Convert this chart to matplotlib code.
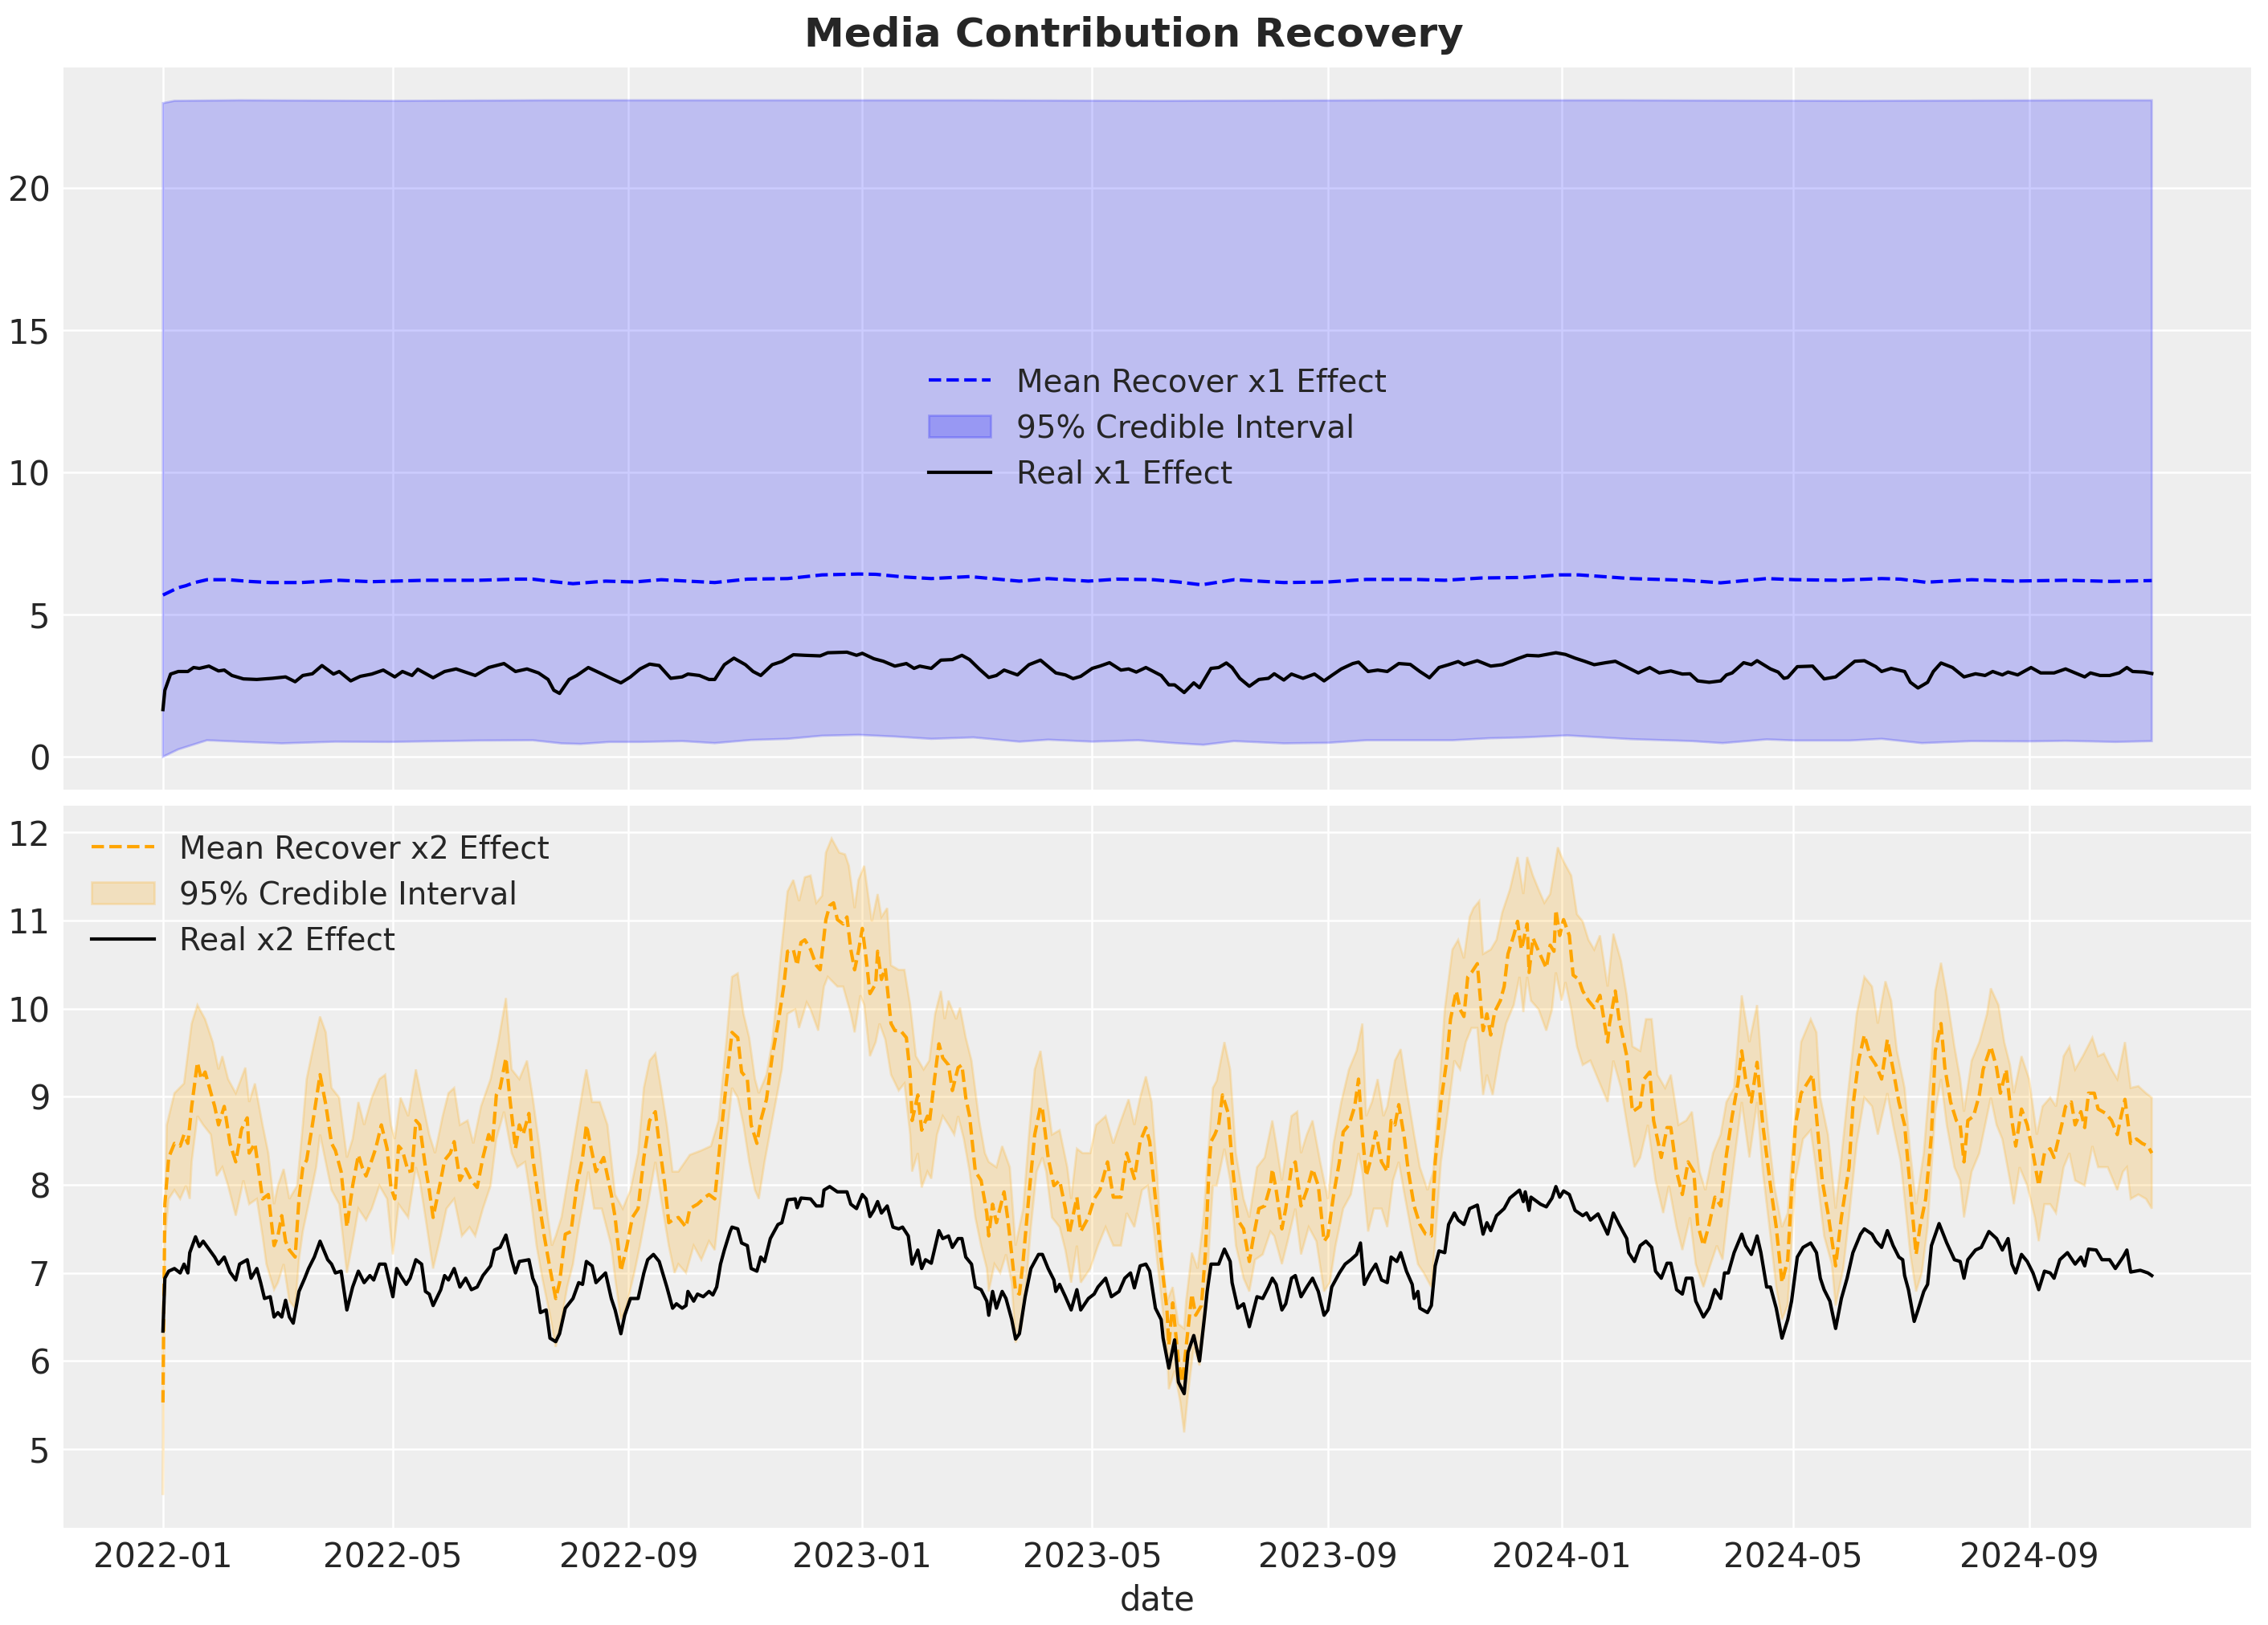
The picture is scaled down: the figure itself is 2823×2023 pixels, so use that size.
import numpy as np
import pandas as pd
import matplotlib
matplotlib.use("Agg")
import matplotlib.pyplot as plt
import matplotlib.dates as mdates
from matplotlib.ticker import MultipleLocator

# readings: (day since 2022-01-01, value)
START = "2022-01-01"

x1_mean_pts = [(0, 5.69), (8, 5.95), (12, 6.02), (16, 6.12), (23, 6.23), (34, 6.23), (45, 6.17), (56, 6.13),
               (72, 6.13), (92, 6.21), (109, 6.16), (137, 6.21), (165, 6.21), (184, 6.25), (193, 6.25),
               (204, 6.16), (214, 6.09), (231, 6.18), (246, 6.15), (260, 6.23), (288, 6.13), (305, 6.25),
               (326, 6.27), (344, 6.40), (363, 6.43), (372, 6.42), (386, 6.33), (401, 6.27), (421, 6.34),
               (447, 6.18), (462, 6.27), (483, 6.18), (498, 6.25), (517, 6.23), (530, 6.15), (542, 6.05),
               (559, 6.23), (585, 6.13), (608, 6.15), (628, 6.24), (654, 6.24), (669, 6.21), (688, 6.29),
               (710, 6.31), (729, 6.40), (739, 6.40), (766, 6.27), (795, 6.21), (813, 6.12), (837, 6.27),
               (852, 6.23), (875, 6.21), (897, 6.27), (907, 6.25), (920, 6.14), (944, 6.23), (965, 6.18),
               (993, 6.21), (1017, 6.17), (1038, 6.20)]

x1_lower_pts = [(0, 0.00), (8, 0.26), (23, 0.58), (43, 0.52), (62, 0.47), (90, 0.53), (118, 0.52), (165, 0.57),
                (193, 0.58), (208, 0.47), (218, 0.45), (233, 0.52), (249, 0.52), (271, 0.55), (288, 0.48),
                (307, 0.59), (326, 0.63), (344, 0.74), (363, 0.77), (382, 0.71), (401, 0.63), (423, 0.68),
                (447, 0.53), (462, 0.60), (485, 0.53), (509, 0.58), (528, 0.48), (543, 0.42), (559, 0.55),
                (585, 0.47), (608, 0.49), (628, 0.58), (654, 0.58), (673, 0.58), (692, 0.65), (710, 0.68),
                (733, 0.75), (766, 0.62), (798, 0.55), (814, 0.48), (837, 0.61), (852, 0.57), (880, 0.57),
                (897, 0.63), (918, 0.48), (944, 0.55), (974, 0.54), (993, 0.56), (1019, 0.52), (1038, 0.55)]

x1_upper_pts = [(0, 23.00), (6, 23.08), (40, 23.10), (120, 23.08), (200, 23.10), (300, 23.10), (420, 23.10),
                (520, 23.08), (640, 23.10), (760, 23.10), (880, 23.08), (1000, 23.10), (1038, 23.10)]

x1_real_pts = [(0, 1.66), (1, 2.34), (4, 2.91), (8, 3.00), (13, 3.00), (16, 3.14), (19, 3.11), (24, 3.19),
               (29, 3.02), (32, 3.05), (36, 2.86), (42, 2.74), (49, 2.72), (57, 2.76), (64, 2.81), (69, 2.64),
               (73, 2.86), (78, 2.92), (83, 3.21), (89, 2.91), (92, 3.00), (98, 2.67), (103, 2.83), (109, 2.91),
               (115, 3.05), (121, 2.81), (125, 3.00), (130, 2.86), (133, 3.08), (141, 2.78), (147, 3.00),
               (153, 3.09), (163, 2.86), (170, 3.14), (178, 3.28), (184, 3.00), (190, 3.09), (196, 2.95),
               (201, 2.72), (204, 2.34), (207, 2.23), (212, 2.72), (216, 2.86), (222, 3.14), (228, 2.95),
               (235, 2.72), (239, 2.60), (244, 2.81), (249, 3.09), (254, 3.26), (259, 3.21), (265, 2.76),
               (271, 2.81), (274, 2.91), (280, 2.86), (285, 2.72), (288, 2.72), (293, 3.24), (298, 3.47),
               (304, 3.24), (308, 3.00), (312, 2.86), (318, 3.24), (323, 3.35), (329, 3.59), (335, 3.57),
               (343, 3.55), (347, 3.66), (357, 3.68), (362, 3.57), (365, 3.64), (371, 3.45), (376, 3.36),
               (382, 3.19), (388, 3.28), (392, 3.11), (395, 3.19), (401, 3.11), (406, 3.40), (412, 3.42),
               (417, 3.57), (421, 3.42), (426, 3.09), (431, 2.79), (435, 2.86), (439, 3.05), (446, 2.88),
               (452, 3.24), (458, 3.40), (466, 2.95), (471, 2.88), (475, 2.75), (479, 2.83), (485, 3.11),
               (489, 3.19), (494, 3.31), (500, 3.05), (504, 3.09), (508, 2.98), (513, 3.14), (521, 2.86),
               (525, 2.53), (528, 2.53), (533, 2.26), (538, 2.60), (541, 2.43), (547, 3.11), (551, 3.14),
               (555, 3.30), (558, 3.14), (562, 2.76), (567, 2.48), (572, 2.72), (577, 2.76), (580, 2.92),
               (585, 2.70), (589, 2.91), (595, 2.76), (601, 2.91), (606, 2.67), (610, 2.86), (615, 3.09),
               (621, 3.28), (624, 3.33), (629, 3.00), (634, 3.05), (639, 3.00), (645, 3.28), (651, 3.25),
               (656, 3.00), (661, 2.78), (666, 3.14), (671, 3.24), (676, 3.35), (679, 3.24), (686, 3.38),
               (693, 3.19), (699, 3.24), (707, 3.45), (712, 3.57), (718, 3.55), (727, 3.66), (732, 3.60),
               (737, 3.47), (742, 3.36), (747, 3.24), (753, 3.31), (758, 3.36), (763, 3.19), (770, 2.95),
               (776, 3.14), (781, 2.95), (787, 3.02), (793, 2.91), (797, 2.92), (801, 2.67), (807, 2.62),
               (813, 2.67), (816, 2.88), (819, 2.95), (825, 3.31), (829, 3.24), (832, 3.38), (839, 3.09),
               (843, 2.98), (846, 2.76), (848, 2.79), (853, 3.17), (861, 3.19), (867, 2.74), (873, 2.81),
               (879, 3.14), (883, 3.36), (888, 3.38), (894, 3.17), (897, 3.00), (902, 3.11), (909, 3.00),
               (912, 2.62), (916, 2.42), (921, 2.62), (924, 3.00), (928, 3.30), (934, 3.14), (940, 2.81),
               (946, 2.92), (951, 2.86), (955, 3.00), (960, 2.88), (963, 2.98), (968, 2.88), (975, 3.14),
               (980, 2.95), (987, 2.95), (993, 3.09), (999, 2.92), (1003, 2.81), (1006, 2.95), (1011, 2.86),
               (1016, 2.86), (1021, 2.95), (1025, 3.14), (1028, 3.00), (1034, 2.98), (1038, 2.93)]

x2_mean_pts = [(0, 5.53), (1, 7.78), (3, 8.31), (6, 8.47), (9, 8.44), (11, 8.57), (13, 8.47), (15, 8.89),
               (18, 9.39), (20, 9.20), (22, 9.28), (27, 8.89), (29, 8.68), (32, 8.89), (35, 8.47), (38, 8.26),
               (41, 8.63), (44, 8.76), (45, 8.36), (48, 8.47), (50, 8.15), (52, 7.84), (55, 7.89), (58, 7.31),
               (60, 7.42), (62, 7.65), (64, 7.36), (66, 7.26), (69, 7.18), (71, 7.84), (73, 8.20), (75, 8.28),
               (78, 8.68), (82, 9.25), (85, 8.91), (88, 8.47), (90, 8.39), (93, 8.15), (96, 7.52), (99, 7.99),
               (102, 8.34), (104, 8.20), (106, 8.10), (109, 8.28), (111, 8.41), (114, 8.68), (117, 8.41),
               (119, 7.97), (121, 7.84), (123, 8.44), (125, 8.39), (128, 8.15), (130, 8.16), (132, 8.73),
               (134, 8.68), (137, 8.20), (139, 7.94), (141, 7.63), (145, 8.05), (147, 8.28), (150, 8.36),
               (152, 8.49), (155, 8.05), (158, 8.18), (161, 8.05), (164, 7.97), (167, 8.31), (170, 8.57),
               (172, 8.47), (174, 9.02), (176, 9.10), (179, 9.44), (181, 8.99), (184, 8.41), (186, 8.68),
               (188, 8.57), (191, 8.81), (193, 8.31), (196, 7.84), (199, 7.42), (202, 7.05), (205, 6.71),
               (207, 6.89), (210, 7.44), (213, 7.47), (216, 7.99), (219, 8.31), (221, 8.68), (224, 8.36),
               (226, 8.15), (230, 8.31), (234, 7.89), (236, 7.63), (239, 7.02), (242, 7.29), (245, 7.63),
               (248, 7.73), (251, 8.31), (254, 8.73), (257, 8.83), (259, 8.47), (262, 7.99), (264, 7.57),
               (266, 7.60), (269, 7.63), (273, 7.52), (275, 7.73), (279, 7.78), (283, 7.86), (285, 7.89),
               (288, 7.84), (291, 8.52), (294, 9.15), (297, 9.73), (300, 9.67), (302, 9.28), (305, 9.20),
               (307, 8.68), (310, 8.47), (312, 8.73), (315, 8.97), (318, 9.46), (321, 9.83), (324, 10.25),
               (326, 10.65), (329, 10.67), (331, 10.49), (333, 10.75), (335, 10.78), (338, 10.67), (341, 10.49),
               (343, 10.44), (346, 11.01), (348, 11.17), (350, 11.20), (352, 11.01), (355, 10.96), (357, 11.04),
               (359, 10.67), (361, 10.44), (363, 10.65), (365, 10.91), (367, 10.57), (369, 10.17), (372, 10.28),
               (373, 10.65), (375, 10.33), (377, 10.46), (380, 9.83), (382, 9.75), (385, 9.75), (388, 9.67),
               (390, 9.25), (391, 8.73), (394, 9.02), (396, 8.62), (399, 8.78), (400, 8.70), (403, 9.25),
               (405, 9.60), (407, 9.44), (410, 9.36), (412, 9.07), (415, 9.33), (417, 9.36), (419, 8.99),
               (421, 8.78), (424, 8.15), (427, 8.05), (430, 7.68), (431, 7.42), (433, 7.78), (435, 7.57),
               (439, 7.92), (441, 7.60), (443, 7.21), (445, 6.79), (447, 6.76), (449, 7.15), (452, 7.89),
               (455, 8.57), (458, 8.89), (459, 8.86), (462, 8.31), (465, 7.99), (468, 8.05), (471, 7.73),
               (473, 7.44), (477, 7.86), (479, 7.47), (483, 7.63), (486, 7.84), (489, 7.94), (493, 8.26),
               (496, 7.86), (500, 7.86), (503, 8.36), (507, 8.07), (510, 8.49), (513, 8.65), (515, 8.49),
               (518, 7.84), (521, 7.15), (524, 6.58), (525, 6.18), (527, 6.66), (530, 6.00), (532, 5.76),
               (534, 6.16), (537, 6.76), (539, 6.52), (542, 6.63), (544, 7.20), (546, 8.20), (547, 8.49),
               (549, 8.57), (551, 8.68), (553, 9.02), (556, 8.81), (558, 8.26), (561, 7.60), (564, 7.50),
               (567, 7.13), (569, 7.39), (572, 7.73), (575, 7.76), (578, 7.99), (579, 8.18), (581, 7.94),
               (584, 7.50), (586, 7.73), (589, 8.20), (591, 8.26), (594, 7.76), (597, 7.94), (600, 8.18),
               (603, 7.99), (606, 7.36), (608, 7.42), (611, 7.89), (614, 8.26), (616, 8.60), (619, 8.68),
               (622, 8.89), (624, 9.20), (626, 8.57), (628, 8.10), (630, 8.26), (633, 8.60), (636, 8.26),
               (639, 8.15), (641, 8.73), (643, 8.68), (645, 8.91), (648, 8.52), (650, 8.15), (653, 7.76),
               (656, 7.55), (659, 7.44), (662, 7.42), (664, 8.26), (667, 8.94), (670, 9.41), (672, 9.88),
               (675, 10.20), (677, 9.99), (679, 9.91), (681, 10.36), (683, 10.41), (686, 10.51), (689, 9.75),
               (691, 9.94), (693, 9.70), (695, 9.96), (698, 10.09), (700, 10.25), (702, 10.62), (705, 10.83),
               (707, 10.99), (709, 10.67), (712, 10.96), (713, 10.41), (715, 10.80), (718, 10.65), (722, 10.46),
               (724, 10.72), (726, 10.65), (727, 11.12), (729, 10.83), (731, 11.01), (734, 10.83), (736, 10.38),
               (739, 10.33), (741, 10.20), (744, 10.09), (747, 10.01), (750, 10.15), (754, 9.62), (755, 9.83),
               (758, 10.20), (760, 9.88), (764, 9.46), (767, 8.83), (771, 8.89), (773, 9.20), (776, 9.28),
               (778, 8.73), (782, 8.31), (785, 8.65), (787, 8.65), (790, 8.15), (793, 7.89), (796, 8.26),
               (799, 8.15), (801, 7.55), (804, 7.31), (807, 7.55), (810, 7.86), (813, 7.76), (816, 8.34),
               (819, 8.78), (822, 9.15), (824, 9.52), (826, 9.20), (829, 8.94), (832, 9.39), (835, 8.68),
               (839, 7.99), (842, 7.52), (845, 6.89), (848, 7.15), (852, 8.68), (855, 9.04), (859, 9.18),
               (861, 9.25), (863, 8.78), (866, 8.05), (869, 7.68), (873, 7.08), (876, 7.63), (880, 8.20),
               (882, 8.89), (885, 9.41), (888, 9.70), (891, 9.46), (894, 9.36), (897, 9.20), (900, 9.65),
               (903, 9.31), (906, 8.94), (909, 8.68), (912, 7.94), (915, 7.21), (917, 7.52), (920, 7.84),
               (923, 8.57), (925, 9.52), (928, 9.83), (930, 9.33), (933, 8.94), (936, 8.73), (938, 8.68),
               (940, 8.26), (942, 8.73), (945, 8.78), (948, 9.02), (950, 9.31), (954, 9.57), (957, 9.33),
               (959, 9.04), (962, 9.31), (965, 8.73), (967, 8.44), (970, 8.86), (973, 8.68), (976, 8.36),
               (979, 7.99), (982, 8.36), (985, 8.41), (987, 8.31), (991, 8.68), (993, 8.89), (996, 8.94),
               (998, 8.68), (1001, 8.83), (1003, 8.65), (1005, 9.04), (1008, 9.04), (1010, 8.86), (1014, 8.81),
               (1017, 8.73), (1020, 8.57), (1022, 8.78), (1024, 8.97), (1027, 8.47), (1030, 8.52), (1033, 8.47),
               (1036, 8.44), (1038, 8.36)]

x2_upper_pts = [(0, 6.60), (2, 8.68), (6, 9.04), (11, 9.15), (15, 9.83), (18, 10.04), (22, 9.88), (26, 9.62),
                (29, 9.31), (31, 9.46), (34, 9.20), (38, 9.04), (43, 9.33), (45, 8.94), (48, 9.15), (52, 8.68),
                (55, 8.36), (58, 7.78), (60, 7.99), (63, 8.18), (66, 7.84), (70, 7.99), (73, 8.68), (75, 9.20),
                (79, 9.62), (82, 9.91), (85, 9.73), (88, 9.10), (92, 8.99), (96, 8.31), (99, 8.52), (102, 8.94),
                (105, 8.68), (109, 8.99), (113, 9.20), (116, 9.25), (119, 8.68), (121, 8.52), (124, 8.99),
                (128, 8.78), (132, 9.31), (135, 8.99), (139, 8.57), (142, 8.36), (146, 8.78), (149, 9.04),
                (152, 9.10), (155, 8.68), (159, 8.73), (162, 8.47), (166, 8.89), (171, 9.20), (175, 9.62),
                (179, 10.12), (182, 9.31), (186, 9.20), (190, 9.41), (193, 8.99), (197, 8.36), (200, 7.78),
                (203, 7.31), (205, 7.42), (208, 7.63), (212, 8.15), (216, 8.68), (220, 9.20), (221, 9.31),
                (224, 8.94), (228, 8.94), (232, 8.68), (236, 7.89), (240, 7.73), (244, 7.94), (248, 8.36),
                (251, 9.10), (254, 9.41), (257, 9.49), (260, 9.10), (263, 8.68), (266, 8.15), (269, 8.15),
                (275, 8.34), (281, 8.39), (286, 8.44), (290, 8.73), (294, 9.62), (297, 10.36), (300, 10.40),
                (303, 9.94), (306, 9.67), (309, 9.20), (311, 9.04), (315, 9.25), (318, 9.62), (322, 10.51),
                (326, 11.33), (329, 11.46), (332, 11.22), (335, 11.49), (338, 11.51), (341, 11.20), (344, 11.28),
                (346, 11.77), (349, 11.93), (353, 11.77), (356, 11.75), (358, 11.62), (361, 11.14), (363, 11.46),
                (366, 11.62), (368, 11.30), (370, 10.99), (373, 11.30), (375, 11.04), (378, 11.14), (380, 10.49),
                (384, 10.44), (387, 10.44), (390, 10.04), (393, 9.46), (397, 9.31), (400, 9.41), (403, 9.94),
                (406, 10.20), (408, 9.88), (410, 10.09), (414, 9.88), (416, 10.01), (419, 9.67), (422, 9.41),
                (426, 8.73), (429, 8.36), (431, 8.26), (435, 8.20), (438, 8.44), (442, 8.20), (445, 7.31),
                (449, 7.73), (452, 8.57), (455, 9.31), (458, 9.52), (460, 9.20), (464, 8.57), (468, 8.62),
                (472, 8.20), (474, 7.84), (477, 8.41), (480, 8.36), (484, 8.36), (487, 8.68), (492, 8.78),
                (496, 8.47), (500, 8.73), (504, 8.97), (507, 8.68), (510, 8.99), (513, 9.23), (516, 8.94),
                (519, 8.10), (521, 7.31), (524, 6.68), (527, 6.84), (530, 6.42), (533, 6.37), (534, 6.68),
                (537, 7.23), (540, 7.05), (543, 7.60), (545, 8.20), (548, 9.10), (550, 9.18), (554, 9.62),
                (557, 9.31), (560, 8.36), (564, 7.84), (567, 7.63), (571, 8.20), (575, 8.31), (579, 8.73),
                (581, 8.47), (584, 8.05), (589, 8.78), (592, 8.83), (594, 8.36), (597, 8.57), (600, 8.73),
                (604, 8.26), (608, 7.84), (611, 8.47), (615, 8.94), (619, 9.31), (623, 9.52), (626, 9.83),
                (628, 8.78), (631, 8.94), (634, 9.20), (637, 8.78), (639, 8.89), (643, 9.41), (646, 9.54),
                (649, 9.10), (653, 8.57), (656, 8.20), (660, 7.94), (663, 8.15), (666, 9.04), (669, 9.99),
                (673, 10.67), (676, 10.78), (679, 10.57), (682, 11.04), (684, 11.14), (687, 11.22), (689, 10.62),
                (693, 10.67), (696, 10.78), (699, 11.09), (703, 11.35), (707, 11.72), (710, 11.30), (712, 11.72),
                (715, 11.51), (718, 11.35), (721, 11.20), (724, 11.30), (726, 11.56), (728, 11.83), (731, 11.67),
                (735, 11.51), (738, 11.07), (741, 10.99), (744, 10.78), (747, 10.67), (750, 10.83), (754, 10.25),
                (757, 10.85), (761, 10.54), (764, 10.15), (767, 9.57), (771, 9.52), (774, 9.88), (777, 9.88),
                (780, 9.25), (784, 9.10), (787, 9.25), (791, 8.68), (795, 8.73), (798, 8.83), (802, 8.15),
                (805, 7.94), (809, 8.36), (813, 8.57), (816, 8.94), (820, 9.10), (824, 10.15), (828, 9.62),
                (832, 10.04), (835, 9.20), (838, 8.57), (841, 7.99), (845, 7.52), (848, 7.68), (851, 8.57),
                (855, 9.62), (860, 9.88), (863, 9.73), (865, 8.99), (869, 8.57), (873, 7.73), (876, 8.31),
                (880, 9.15), (884, 9.94), (888, 10.36), (892, 10.25), (895, 9.83), (899, 10.31), (902, 10.09),
                (905, 9.52), (909, 9.10), (912, 8.36), (915, 7.78), (919, 8.36), (923, 9.41), (925, 10.20),
                (928, 10.52), (931, 10.15), (935, 9.57), (938, 9.20), (940, 8.83), (944, 9.41), (948, 9.62),
                (952, 9.94), (954, 10.23), (958, 10.04), (961, 9.62), (964, 9.36), (966, 9.04), (970, 9.46),
                (974, 9.20), (978, 8.57), (981, 8.89), (985, 8.99), (988, 8.89), (992, 9.46), (995, 9.57),
                (998, 9.31), (1002, 9.46), (1007, 9.67), (1010, 9.46), (1013, 9.49), (1017, 9.31), (1020, 9.20),
                (1024, 9.62), (1027, 9.10), (1031, 9.12), (1035, 9.04), (1038, 8.99)]

x2_lower_pts = [(0, 4.48), (1, 7.36), (3, 7.84), (6, 7.94), (9, 7.84), (12, 7.99), (14, 7.84), (15, 8.26),
                (18, 8.78), (21, 8.68), (25, 8.57), (28, 8.10), (31, 8.20), (34, 7.99), (38, 7.65), (42, 8.05),
                (45, 7.78), (49, 7.84), (52, 7.42), (54, 7.10), (58, 6.81), (60, 6.89), (63, 7.10), (66, 6.68),
                (69, 6.60), (71, 7.15), (73, 7.47), (76, 7.78), (80, 8.20), (82, 8.57), (86, 8.15), (88, 7.94),
                (92, 7.78), (96, 7.00), (100, 7.47), (102, 7.73), (106, 7.60), (109, 7.73), (113, 7.99),
                (117, 7.84), (120, 7.21), (123, 7.78), (128, 7.63), (132, 8.20), (134, 8.05), (137, 7.63),
                (141, 7.05), (145, 7.42), (148, 7.73), (152, 7.84), (156, 7.42), (160, 7.52), (163, 7.42),
                (167, 7.73), (171, 7.99), (174, 8.52), (178, 8.83), (182, 8.36), (185, 8.20), (189, 8.26),
                (192, 7.84), (195, 7.31), (198, 6.94), (202, 6.52), (205, 6.16), (208, 6.47), (211, 6.84),
                (214, 7.10), (217, 7.52), (220, 7.89), (222, 8.15), (225, 7.73), (229, 7.73), (234, 7.31),
                (236, 6.94), (239, 6.47), (242, 6.63), (246, 7.00), (249, 7.31), (253, 7.78), (257, 8.26),
                (260, 7.84), (264, 7.31), (267, 7.00), (269, 7.10), (273, 7.00), (277, 7.31), (281, 7.15),
                (285, 7.36), (288, 7.26), (291, 7.84), (294, 8.47), (297, 9.10), (300, 8.99), (303, 8.68),
                (306, 8.26), (309, 7.94), (311, 7.84), (314, 8.26), (318, 8.73), (323, 9.31), (326, 9.94),
                (330, 9.99), (332, 9.78), (336, 10.07), (338, 9.99), (342, 9.75), (345, 10.25), (347, 10.36),
                (352, 10.25), (355, 10.25), (359, 9.94), (361, 9.73), (364, 10.15), (366, 10.04), (369, 9.46),
                (372, 9.62), (374, 9.83), (377, 9.65), (380, 9.25), (384, 9.07), (387, 9.15), (390, 8.57),
                (391, 8.15), (394, 8.36), (396, 7.97), (399, 8.15), (401, 8.07), (404, 8.57), (407, 8.78),
                (410, 8.68), (413, 8.57), (415, 8.78), (418, 8.52), (421, 8.15), (424, 7.63), (427, 7.31),
                (430, 7.05), (431, 6.79), (434, 7.10), (437, 7.00), (440, 7.21), (443, 6.89), (445, 6.21),
                (448, 6.37), (450, 6.73), (453, 7.52), (456, 8.15), (459, 8.31), (461, 8.15), (464, 7.63),
                (468, 7.52), (471, 7.26), (474, 6.89), (477, 7.31), (479, 6.89), (484, 7.05), (488, 7.31),
                (492, 7.52), (496, 7.31), (500, 7.31), (503, 7.68), (507, 7.52), (511, 7.94), (514, 7.99),
                (517, 7.52), (521, 6.73), (524, 6.16), (525, 5.68), (528, 5.89), (531, 5.53), (533, 5.19),
                (535, 5.63), (538, 6.16), (541, 5.95), (544, 6.50), (546, 7.30), (548, 7.99), (550, 7.99),
                (554, 8.41), (557, 8.05), (560, 7.31), (564, 6.94), (567, 6.79), (570, 7.15), (574, 7.21),
                (578, 7.47), (580, 7.42), (584, 7.10), (587, 7.36), (591, 7.73), (594, 7.21), (598, 7.52),
                (602, 7.36), (606, 6.79), (609, 6.89), (612, 7.31), (616, 7.73), (620, 7.89), (624, 8.36),
                (626, 8.15), (629, 7.47), (632, 7.73), (636, 7.73), (639, 7.52), (642, 8.05), (645, 8.26),
                (648, 7.89), (652, 7.42), (655, 7.10), (658, 7.00), (662, 6.84), (664, 7.36), (667, 8.26),
                (671, 8.89), (674, 9.41), (677, 9.31), (680, 9.62), (683, 9.78), (686, 9.78), (689, 9.02),
                (691, 9.25), (694, 9.02), (698, 9.52), (701, 9.83), (705, 10.04), (708, 10.36), (710, 9.96),
                (712, 10.36), (714, 10.09), (718, 9.99), (722, 9.75), (725, 9.99), (727, 10.41), (730, 10.09),
                (732, 10.30), (735, 9.99), (738, 9.57), (741, 9.36), (745, 9.41), (749, 9.20), (754, 8.94),
                (757, 9.41), (761, 9.10), (765, 8.57), (768, 8.20), (771, 8.31), (775, 8.68), (779, 8.05),
                (783, 7.68), (786, 7.99), (790, 7.52), (793, 7.26), (797, 7.63), (800, 7.10), (804, 6.84),
                (807, 7.05), (811, 7.31), (814, 7.15), (817, 7.73), (820, 8.26), (824, 8.94), (828, 8.31),
                (832, 8.94), (835, 8.15), (839, 7.42), (842, 6.84), (845, 6.47), (848, 6.63), (852, 8.05),
                (856, 8.52), (860, 8.62), (863, 8.15), (867, 7.42), (871, 7.10), (873, 6.63), (877, 7.05),
                (880, 7.63), (884, 8.47), (888, 8.99), (892, 8.89), (895, 8.57), (900, 9.04), (903, 8.68),
                (907, 8.26), (909, 7.84), (912, 7.21), (915, 6.79), (918, 7.00), (921, 7.52), (925, 8.83),
                (928, 9.20), (931, 8.68), (935, 8.20), (938, 8.05), (940, 7.63), (944, 8.15), (948, 8.36),
                (952, 8.78), (954, 8.99), (957, 8.68), (960, 8.52), (964, 8.05), (966, 7.78), (969, 8.20),
                (973, 7.99), (977, 7.63), (979, 7.36), (982, 7.78), (985, 7.78), (988, 7.68), (992, 8.20),
                (995, 8.36), (998, 8.05), (1003, 7.99), (1007, 8.44), (1010, 8.20), (1015, 8.20), (1020, 7.94),
                (1023, 8.15), (1025, 8.20), (1027, 7.84), (1031, 7.89), (1035, 7.84), (1038, 7.73)]

x2_real_pts = [(0, 6.34), (1, 6.94), (3, 7.02), (6, 7.05), (9, 7.00), (11, 7.10), (13, 7.00), (14, 7.23),
               (17, 7.41), (19, 7.30), (21, 7.36), (27, 7.18), (29, 7.10), (32, 7.18), (35, 7.01), (38, 6.92),
               (40, 7.10), (44, 7.15), (46, 6.94), (49, 7.05), (51, 6.89), (53, 6.71), (56, 6.73), (58, 6.50),
               (60, 6.55), (62, 6.50), (64, 6.69), (66, 6.50), (68, 6.43), (71, 6.79), (74, 6.94), (76, 7.05),
               (79, 7.18), (82, 7.36), (86, 7.15), (88, 7.10), (90, 7.00), (93, 7.02), (96, 6.58), (99, 6.84),
               (102, 7.02), (105, 6.89), (108, 6.97), (110, 6.92), (113, 7.10), (116, 7.10), (120, 6.73),
               (122, 7.05), (124, 6.97), (127, 6.87), (129, 6.94), (132, 7.15), (135, 7.10), (137, 6.79),
               (139, 6.76), (141, 6.63), (145, 6.81), (147, 6.97), (149, 6.92), (152, 7.05), (155, 6.84),
               (158, 6.94), (161, 6.81), (164, 6.84), (167, 6.97), (171, 7.08), (173, 7.26), (176, 7.29),
               (179, 7.43), (182, 7.15), (184, 7.00), (186, 7.13), (191, 7.15), (193, 6.94), (195, 6.84),
               (197, 6.55), (200, 6.58), (202, 6.26), (205, 6.22), (207, 6.31), (210, 6.60), (214, 6.71),
               (217, 6.89), (219, 6.87), (221, 7.13), (224, 7.08), (226, 6.89), (231, 7.00), (234, 6.71),
               (236, 6.58), (239, 6.31), (241, 6.52), (244, 6.71), (248, 6.71), (251, 7.00), (253, 7.15),
               (256, 7.21), (259, 7.13), (263, 6.84), (266, 6.60), (268, 6.65), (271, 6.60), (273, 6.63),
               (274, 6.79), (277, 6.68), (279, 6.76), (282, 6.73), (285, 6.79), (287, 6.75), (289, 6.84),
               (291, 7.10), (293, 7.26), (296, 7.47), (297, 7.52), (300, 7.50), (302, 7.34), (305, 7.31),
               (307, 7.05), (310, 7.02), (312, 7.18), (314, 7.13), (317, 7.39), (321, 7.55), (323, 7.57),
               (326, 7.83), (330, 7.84), (331, 7.74), (333, 7.85), (338, 7.84), (341, 7.76), (344, 7.76),
               (345, 7.94), (348, 7.98), (352, 7.92), (357, 7.92), (359, 7.78), (362, 7.73), (365, 7.89),
               (367, 7.84), (369, 7.64), (371, 7.71), (373, 7.81), (375, 7.68), (378, 7.76), (381, 7.52),
               (384, 7.50), (386, 7.52), (389, 7.42), (391, 7.10), (394, 7.26), (396, 7.05), (398, 7.15),
               (401, 7.11), (405, 7.48), (407, 7.39), (410, 7.42), (412, 7.29), (415, 7.39), (417, 7.39),
               (419, 7.18), (422, 7.10), (424, 6.84), (427, 6.81), (430, 6.68), (431, 6.52), (433, 6.79),
               (435, 6.60), (438, 6.79), (440, 6.71), (443, 6.47), (445, 6.25), (447, 6.31), (450, 6.73),
               (453, 7.05), (457, 7.21), (459, 7.21), (462, 7.05), (465, 6.92), (466, 6.79), (468, 6.87),
               (471, 6.73), (474, 6.58), (477, 6.81), (479, 6.58), (483, 6.71), (486, 6.76), (488, 6.84),
               (492, 6.94), (495, 6.73), (499, 6.79), (502, 6.94), (505, 7.00), (507, 6.83), (510, 7.08),
               (513, 7.10), (515, 7.02), (518, 6.60), (521, 6.47), (522, 6.26), (525, 5.92), (528, 6.24),
               (530, 5.76), (533, 5.63), (535, 6.10), (538, 6.29), (541, 6.00), (544, 6.58), (545, 6.79),
               (547, 7.10), (551, 7.10), (554, 7.27), (557, 7.13), (558, 6.89), (561, 6.60), (564, 6.65),
               (567, 6.39), (571, 6.73), (574, 6.71), (577, 6.84), (579, 6.94), (581, 6.87), (584, 6.58),
               (586, 6.65), (589, 6.94), (591, 6.97), (594, 6.73), (597, 6.84), (600, 6.94), (603, 6.79),
               (606, 6.52), (608, 6.58), (610, 6.84), (614, 7.00), (617, 7.10), (620, 7.15), (623, 7.21),
               (625, 7.34), (627, 6.87), (630, 7.00), (633, 7.10), (636, 6.92), (639, 6.89), (641, 7.18),
               (644, 7.13), (646, 7.23), (649, 7.02), (652, 6.87), (653, 6.71), (655, 6.79), (656, 6.60),
               (660, 6.55), (662, 6.63), (664, 7.08), (666, 7.25), (669, 7.23), (671, 7.55), (674, 7.68),
               (676, 7.60), (679, 7.55), (682, 7.73), (686, 7.77), (689, 7.44), (691, 7.57), (693, 7.48),
               (696, 7.65), (700, 7.73), (703, 7.85), (708, 7.94), (710, 7.81), (711, 7.92), (713, 7.71),
               (714, 7.86), (719, 7.78), (722, 7.75), (725, 7.85), (727, 7.98), (729, 7.86), (731, 7.93),
               (734, 7.89), (737, 7.71), (739, 7.68), (741, 7.65), (743, 7.68), (745, 7.60), (749, 7.67),
               (754, 7.44), (757, 7.68), (760, 7.55), (764, 7.39), (765, 7.23), (768, 7.13), (771, 7.31),
               (774, 7.36), (777, 7.29), (779, 7.02), (782, 6.94), (785, 7.11), (787, 7.11), (790, 6.81),
               (793, 6.76), (795, 6.94), (798, 6.94), (800, 6.68), (804, 6.50), (807, 6.60), (810, 6.81),
               (813, 6.71), (815, 7.00), (817, 7.00), (820, 7.23), (824, 7.44), (826, 7.31), (829, 7.21),
               (832, 7.42), (834, 7.23), (837, 6.84), (839, 6.84), (842, 6.60), (845, 6.26), (848, 6.47),
               (850, 6.68), (853, 7.18), (856, 7.29), (860, 7.34), (863, 7.23), (865, 6.94), (867, 6.81),
               (870, 6.68), (873, 6.37), (876, 6.71), (879, 6.94), (882, 7.23), (886, 7.44), (888, 7.50),
               (892, 7.44), (894, 7.36), (897, 7.29), (900, 7.48), (903, 7.31), (906, 7.18), (908, 7.15),
               (909, 6.97), (911, 6.81), (914, 6.45), (916, 6.58), (919, 6.79), (921, 6.87), (923, 7.31),
               (927, 7.56), (931, 7.34), (935, 7.15), (938, 7.13), (940, 6.94), (942, 7.15), (946, 7.26),
               (949, 7.29), (953, 7.47), (957, 7.39), (960, 7.26), (963, 7.39), (965, 7.10), (967, 7.00),
               (970, 7.21), (973, 7.13), (976, 7.00), (979, 6.81), (982, 7.02), (985, 7.00), (987, 6.94),
               (990, 7.15), (994, 7.23), (998, 7.10), (1001, 7.18), (1003, 7.08), (1005, 7.27), (1009, 7.26),
               (1012, 7.15), (1016, 7.15), (1019, 7.05), (1023, 7.18), (1025, 7.26), (1027, 7.01), (1032, 7.03),
               (1036, 7.00), (1038, 6.97)]


def to_series(points):
    days, vals = zip(*points)
    dates = pd.Timestamp(START) + pd.to_timedelta(np.array(days), unit="D")
    return dates, np.array(vals)


def band(ax, upper_pts, lower_pts, color, label):
    # polygon along the upper edge, then back along the lower edge
    up_x, up_y = to_series(upper_pts)
    lo_x, lo_y = to_series(lower_pts)
    xs = np.concatenate([up_x.values, lo_x.values[::-1]])
    ys = np.concatenate([up_y, lo_y[::-1]])
    ax.fill(xs, ys, color=color, alpha=0.2, lw=1, label=label)


# arviz-darkgrid look
plt.rcParams.update({
    "font.family": "DejaVu Sans",
    "axes.facecolor": "#eeeeee",
    "axes.edgecolor": "#eeeeee",
    "axes.grid": True,
    "grid.color": "white",
    "grid.linewidth": 0.9,
    "axes.axisbelow": True,
    "xtick.major.size": 0,
    "ytick.major.size": 0,
    "xtick.major.pad": 6,
    "ytick.major.pad": 6,
    "text.color": "#262626",
    "xtick.color": "#262626",
    "ytick.color": "#262626",
    "axes.labelcolor": "#262626",
    "xtick.labelsize": 15,
    "ytick.labelsize": 15,
    "legend.fontsize": 14,
    "legend.frameon": False,
    "lines.linewidth": 1.5,
})

fig = plt.figure(figsize=(14.115, 10.115), dpi=200)
ax2 = fig.add_axes([0.028, 0.0598, 0.9646, 0.4444])
ax1 = fig.add_axes([0.028, 0.5141, 0.9646, 0.4444], sharex=ax2)
for ax in (ax1, ax2):
    for s in ax.spines.values():
        s.set_visible(False)

# top: x1
d, v = to_series(x1_mean_pts)
ax1.plot(d, v, color="blue", ls="--", label="Mean Recover x1 Effect")
band(ax1, x1_upper_pts, x1_lower_pts, "blue", "95% Credible Interval")
d, v = to_series(x1_real_pts)
ax1.plot(d, v, color="black", label="Real x1 Effect")
ax1.legend(loc="center")
ax1.tick_params(labelbottom=False)

# bottom: x2
d, v = to_series(x2_mean_pts)
ax2.plot(d, v, color="orange", ls="--", label="Mean Recover x2 Effect")
band(ax2, x2_upper_pts, x2_lower_pts, "orange", "95% Credible Interval")
d, v = to_series(x2_real_pts)
ax2.plot(d, v, color="black", label="Real x2 Effect")
ax2.legend(loc="upper left")
ax2.yaxis.set_major_locator(MultipleLocator(1))

ax2.xaxis.set_major_locator(mdates.MonthLocator(bymonth=[1, 5, 9]))
ax2.xaxis.set_major_formatter(mdates.DateFormatter("%Y-%m"))
ax2.set_xlabel("date", fontsize=15)

fig.text(0.5, 1 - 57.7 / 2023, "Media Contribution Recovery", fontsize=18, fontweight="bold",
         ha="center", va="baseline")

fig.savefig("out.png", dpi=200)
